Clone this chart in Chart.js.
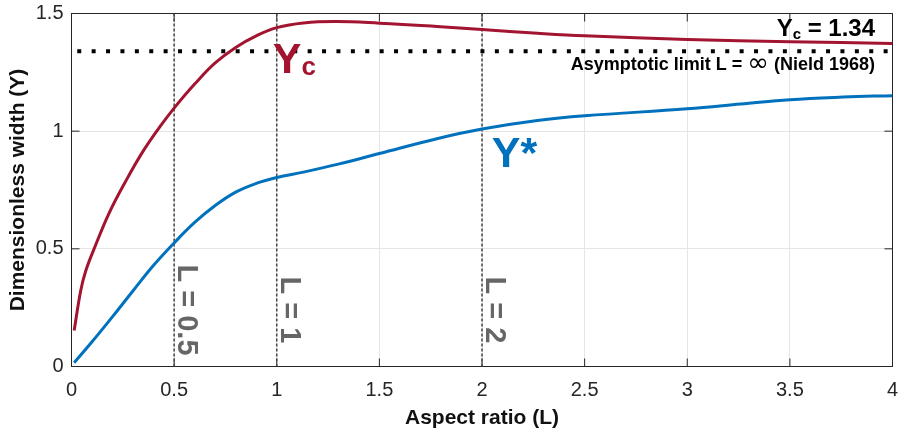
<!DOCTYPE html>
<html>
<head>
<meta charset="utf-8">
<script src="https://cdn.jsdelivr.net/npm/chart.js@4.4.1/dist/chart.umd.min.js"></script>
<style>
  html, body { margin: 0; padding: 0; background: #fff; }
  #myChart { display: block; }
</style>
</head>
<body>
<canvas id="myChart" width="898" height="432"></canvas>
<script>
const FONT = '"Liberation Sans", Arial, Helvetica, sans-serif';

// axis ticks
const xTicks = [0, 0.5, 1, 1.5, 2, 2.5, 3, 3.5, 4];
const xTickLabels = ['0', '0.5', '1', '1.5', '2', '2.5', '3', '3.5', '4'];
const yTicks = [0, 0.5, 1, 1.5];
const yTickLabels = ['0', '0.5', '1', '1.5'];

// critical width Yc against aspect ratio
const yc_L = [0.013, 0.045, 0.07, 0.11, 0.185, 0.267, 0.349, 0.43, 0.5, 0.6, 0.7, 0.8,
              0.9, 1.0, 1.13, 1.29, 1.5, 1.78, 2.0, 2.27, 2.5, 3.0, 3.5, 4.0];
const yc_Y = [0.153, 0.323, 0.408, 0.5, 0.655, 0.792, 0.915, 1.018, 1.098, 1.2, 1.29, 1.356,
              1.405, 1.44, 1.46, 1.466, 1.459, 1.445, 1.432, 1.416, 1.405, 1.39, 1.38, 1.373];

// Y* against aspect ratio
const ystar_L = [0.013, 0.1, 0.2, 0.3, 0.4, 0.5, 0.6, 0.7, 0.8, 0.9, 1.0, 1.13, 1.3, 1.5,
                 1.78, 2.0, 2.27, 2.5, 3.0, 3.26, 3.5, 3.76, 4.0];
const ystar_Y = [0.016, 0.105, 0.212, 0.322, 0.43, 0.525, 0.612, 0.684, 0.741, 0.778, 0.803, 0.826, 0.86, 0.905,
                 0.968, 1.009, 1.045, 1.065, 1.095, 1.115, 1.134, 1.145, 1.151];

// Nield (1968) limit for L -> infinity
const nield_Y = 1.34;
const nield_L = [0.028, 4];

// marked aspect ratios
const marker_L = [0.5, 1, 2];
const marker_labels = ['L = 0.5', 'L = 1', 'L = 2'];

const RED = '#A2142F';
const BLUE = '#0072BD';
const AXIS = '#262626';

function to_points(xs, ys) {
    return xs.map((v, i) => ({x: v, y: ys[i]}));
}

function marker_dataset(L) {
    return {
        data: [{x: L, y: 0}, {x: L, y: 1.5}],
        borderColor: '#4d4d4d',
        borderWidth: 1.6,
        borderDash: [3, 2],
        pointRadius: 0,
        tension: 0,
        fill: false
    };
}

// box on top/right and inward tick marks on all sides
const frame_plugin = {
    id: 'frame',
    beforeDatasetsDraw(chart) {
        const ctx = chart.ctx;
        const a = chart.chartArea;
        const x = chart.scales.x, y = chart.scales.y;
        const tl = 8;
        ctx.save();
        ctx.strokeStyle = AXIS;
        ctx.lineWidth = 1;
        ctx.beginPath();
        ctx.moveTo(a.left, a.top);
        ctx.lineTo(a.right, a.top);
        ctx.lineTo(a.right, a.bottom);
        xTicks.forEach(v => {
            const px = x.getPixelForValue(v);
            ctx.moveTo(px, a.bottom); ctx.lineTo(px, a.bottom - tl);
            ctx.moveTo(px, a.top); ctx.lineTo(px, a.top + tl);
        });
        yTicks.forEach(v => {
            const py = y.getPixelForValue(v);
            ctx.moveTo(a.left, py); ctx.lineTo(a.left + tl, py);
            ctx.moveTo(a.right, py); ctx.lineTo(a.right - tl, py);
        });
        ctx.stroke();
        ctx.restore();
    }
};

function draw_pieces(ctx, pieces, x0, base) {
    let cx = x0;
    pieces.forEach(p => {
        ctx.font = p.font;
        ctx.fillText(p.text, cx, base + (p.dy || 0));
        cx += ctx.measureText(p.text).width;
    });
}

function pieces_width(ctx, pieces) {
    let w = 0;
    pieces.forEach(p => { ctx.font = p.font; w += ctx.measureText(p.text).width; });
    return w;
}

const text_plugin = {
    id: 'texts',
    afterDatasetsDraw(chart) {
        const ctx = chart.ctx;
        const x = chart.scales.x, y = chart.scales.y;
        ctx.save();
        ctx.textBaseline = 'alphabetic';
        ctx.textAlign = 'left';

        // curve names
        ctx.fillStyle = RED;
        draw_pieces(ctx, [
            {text: 'Y', font: 'bold 43px ' + FONT},
            {text: 'c', font: 'bold 26px ' + FONT, dy: 2}
        ], x.getPixelForValue(0.981), y.getPixelForValue(1.247));

        ctx.fillStyle = BLUE;
        ctx.font = 'bold 43px ' + FONT;
        ctx.fillText('Y*', x.getPixelForValue(2.048), y.getPixelForValue(0.847));

        // limit annotation, right aligned, above and below the dotted line
        ctx.fillStyle = '#000';
        const right = x.getPixelForValue(3.915);
        const line_px = y.getPixelForValue(nield_Y);
        const head = [
            {text: 'Y', font: 'bold 24px ' + FONT},
            {text: 'c', font: 'bold 15px ' + FONT, dy: 3},
            {text: ' = ' + nield_Y.toFixed(2), font: 'bold 24px ' + FONT}
        ];
        draw_pieces(ctx, head, right - pieces_width(ctx, head), y.getPixelForValue(1.405));

        const note = [
            {text: 'Asymptotic limit L = ', font: 'bold 18px ' + FONT},
            {text: '\u221E', font: '26px "DejaVu Sans", sans-serif', dy: 1},
            {text: ' (Nield 1968)', font: 'bold 18px ' + FONT}
        ];
        draw_pieces(ctx, note, right - pieces_width(ctx, note), line_px + 19);

        // vertical labels beside the marked aspect ratios
        ctx.fillStyle = '#666666';
        ctx.font = 'bold 29px ' + FONT;
        ctx.textAlign = 'center';
        marker_L.forEach((L, i) => {
            ctx.save();
            ctx.translate(x.getPixelForValue(L) + 4, y.getPixelForValue(0.24));
            ctx.rotate(Math.PI / 2);
            ctx.fillText(marker_labels[i], 0, 0);
            ctx.restore();
        });
        ctx.restore();
    }
};

const ctx = document.getElementById('myChart').getContext('2d');

const datasets = [
    {
        data: to_points(yc_L, yc_Y),
        borderColor: RED,
        borderWidth: 3,
        pointRadius: 0,
        tension: 0.4,
        fill: false
    },
    {
        data: to_points(ystar_L, ystar_Y),
        borderColor: BLUE,
        borderWidth: 3,
        pointRadius: 0,
        tension: 0.4,
        fill: false
    },
    {
        data: nield_L.map(v => ({x: v, y: nield_Y})),
        borderColor: '#000',
        borderWidth: 4,
        borderDash: [4, 10.4],
        borderCapStyle: 'butt',
        pointRadius: 0,
        tension: 0,
        fill: false
    }
];
marker_L.forEach(L => datasets.push(marker_dataset(L)));

const MyChart = new Chart(ctx, {
    type: 'line',
    data: {datasets: datasets},
    plugins: [frame_plugin, text_plugin],
    options: {
        responsive: false,
        devicePixelRatio: 1,
        animation: false,
        layout: {autoPadding: false, padding: {left: 0, top: 13.5, right: 5.5, bottom: 0}},
        plugins: {legend: {display: false}, tooltip: {enabled: false}},
        scales: {
            x: {
                type: 'linear',
                min: 0,
                max: 4,
                afterBuildTicks: s => { s.ticks = xTicks.map(v => ({value: v})); },
                afterFit: s => { s.height = 65.5; s.paddingLeft = 0; s.paddingRight = 0; },
                ticks: {
                    autoSkip: false,
                    maxRotation: 0,
                    padding: 12,
                    color: AXIS,
                    font: {family: FONT, size: 20},
                    callback: (v, i) => xTickLabels[i]
                },
                grid: {color: '#e5e5e5', lineWidth: 1, drawTicks: false},
                border: {display: true, color: AXIS, width: 1},
                title: {
                    display: true,
                    text: 'Aspect ratio (L)',
                    color: '#111',
                    font: {family: FONT, size: 21, weight: 'bold'},
                    padding: {top: 0, bottom: 1}
                }
            },
            y: {
                type: 'linear',
                min: 0,
                max: 1.5,
                afterBuildTicks: s => { s.ticks = yTicks.map(v => ({value: v})); },
                afterFit: s => { s.width = 71.5; s.paddingTop = 0; s.paddingBottom = 0; },
                ticks: {
                    padding: 8,
                    color: AXIS,
                    font: {family: FONT, size: 20},
                    callback: (v, i) => yTickLabels[i]
                },
                grid: {color: '#e5e5e5', lineWidth: 1, drawTicks: false},
                border: {display: true, color: AXIS, width: 1},
                title: {
                    display: true,
                    text: 'Dimensionless width (Y)',
                    color: '#111',
                    font: {family: FONT, size: 21, weight: 'bold'},
                    padding: {top: 6, bottom: 0}
                }
            }
        }
    }
});
</script>
</body>
</html>
